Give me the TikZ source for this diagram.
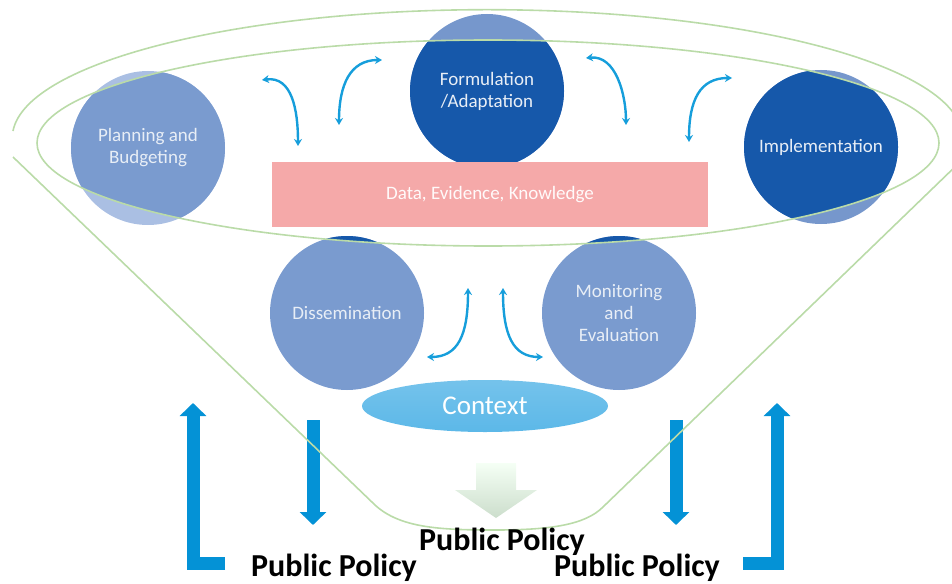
\documentclass[tikz,border=0pt]{standalone}
\usepackage{fontspec}
\setmainfont{Carlito}
\usetikzlibrary{arrows.meta,shapes.geometric,positioning,backgrounds}

\definecolor{midblue}{RGB}{122,155,207}
\definecolor{paleblue}{RGB}{170,191,227}
\definecolor{darkblue}{RGB}{22,88,170}
\definecolor{fadeblue}{RGB}{118,151,204}
\definecolor{linegreen}{RGB}{186,219,168}
\definecolor{arrowcyan}{RGB}{22,158,219}
\definecolor{bigblue}{RGB}{4,146,214}
\definecolor{ctxblue}{RGB}{92,184,232}
\definecolor{datapink}{RGB}{245,169,169}
\definecolor{softwhite}{RGB}{232,238,246}

\begin{document}
\begin{tikzpicture}[x=1pt, y=-1pt,
			disc/.style={circle, minimum size=154pt, inner sep=0pt, align=center,
				text=softwhite, font=\fontsize{19}{22}\selectfont},
			greenline/.style={draw=linegreen, line width=1.6pt},
			twoway/.style={draw=arrowcyan, line width=2.4pt,
				{Stealth[length=7pt,width=8pt]}-{Stealth[length=7pt,width=8pt]}},
			bigarrow/.style={draw=bigblue, line width=13pt, line join=miter,
				-{Triangle[length=13pt,width=26pt]}},
			policy/.style={font=\fontsize{32}{36}\selectfont\bfseries, anchor=base, inner sep=0pt},
		]
		
			\useasboundingbox (0,0) rectangle (952,583);
			\coordinate (ring) at (488,143);
		
			%Circles
			\node[disc]		(plan)	at (148,148)	{Planning and\\Budgeting};
			\node[disc]		(formu)	at (487,91)	{Formulation\\/Adaptation};
			\node[disc]		(imple)	at (821,147)	{Implementation};
			\node[disc]		(disse)	at (347,313)	{Dissemination};
			\node[disc]		(monit)	at (619,313)	{Monitoring\\and\\Evaluation};
		
			\begin{scope}[on background layer]
				\fill[paleblue]	(plan) circle[radius=77];
				\foreach \c in {formu,imple}
					\fill[fadeblue]	(\c) circle[radius=77];
				\foreach \c in {disse,monit}
					\fill[midblue]	(\c) circle[radius=77];
				\clip (ring) ellipse[x radius=451, y radius=103];
				\fill[midblue]	(plan) circle[radius=77];
				\foreach \c in {formu,imple,disse,monit}
					\fill[darkblue]	(\c) circle[radius=77];
			\end{scope}
		
			%Data and context
			\node[fill=datapink, minimum width=436pt, minimum height=65pt, text=white!92!pink,
				font=\fontsize{19}{22}\selectfont]	(data)	at (490,194.5)	{Data, Evidence, Knowledge};
			\node[ellipse, top color=ctxblue!85!white, bottom color=ctxblue, minimum width=246pt,
				minimum height=52pt, text=white, font=\fontsize{27}{30}\selectfont]	(context)	at (485,406)	{Context};
		
			%Small arrows
			\coordinate (pf1) at (262,80);	\coordinate (pf2) at (298,146);
			\coordinate (pf3) at (339,125);	\coordinate (pf4) at (382,60);
			\coordinate (fi1) at (586,58);	\coordinate (fi2) at (626,125);
			\coordinate (fi3) at (689,142);	\coordinate (fi4) at (732,78);
			\coordinate (dm1) at (468,288);	\coordinate (dm2) at (427,357);
			\coordinate (dm3) at (503,288);	\coordinate (dm4) at (543,357);
			\draw[twoway]	(pf1) .. controls (292,76) and (298,110) .. (pf2);
			\draw[twoway]	(pf3) .. controls (339,85) and (350,60) .. (pf4);
			\draw[twoway]	(fi1) .. controls (616,55) and (626,95) .. (fi2);
			\draw[twoway]	(fi3) .. controls (689,100) and (700,78) .. (fi4);
			\draw[twoway]	(dm1) .. controls (468,335) and (458,357) .. (dm2);
			\draw[twoway]	(dm3) .. controls (503,335) and (513,357) .. (dm4);
		
			%Big arrows
			\coordinate (lb1) at (225,563);	\coordinate (lb2) at (193,563);	\coordinate (lb3) at (193,403);
			\coordinate (ld1) at (313,420);	\coordinate (ld2) at (313,525);
			\coordinate (rd1) at (676,420);	\coordinate (rd2) at (676,525);
			\coordinate (rb1) at (743,563);	\coordinate (rb2) at (777,563);	\coordinate (rb3) at (777,403);
			\draw[bigarrow]	(lb1) -- (lb2) -- (lb3);
			\draw[bigarrow]	(ld1) -- (ld2);
			\draw[bigarrow]	(rd1) -- (rd2);
			\draw[bigarrow]	(rb1) -- (rb2) -- (rb3);
		
			%Pale arrow
			\shade[top color=green!4!white, bottom color=green!35!black!20!white]
				(476,463) -- (516,463) -- (516,490) -- (537,490) -- (496,518) -- (455,490) -- (476,490) -- cycle;
		
			%Funnel
			\draw[greenline]	(ring) ellipse[x radius=451, y radius=103];
			\draw[greenline]	(13,131) arc[start angle=183, end angle=362, x radius=475, y radius=128];
			\draw[greenline]	(13,157) -- (375,505) .. controls (400,528) and (440,530) .. (495,530)
				.. controls (550,530) and (585,525) .. (603,507) -- (960,162);
		
			%Labels
			\node[policy]	(ppmid)		at (502,550)	{Public Policy};
			\node[policy]	(ppleft)	at (334,576)	{Public Policy};
			\node[policy]	(ppright)	at (637,576)	{Public Policy};
		
		\end{tikzpicture}
\end{document}
